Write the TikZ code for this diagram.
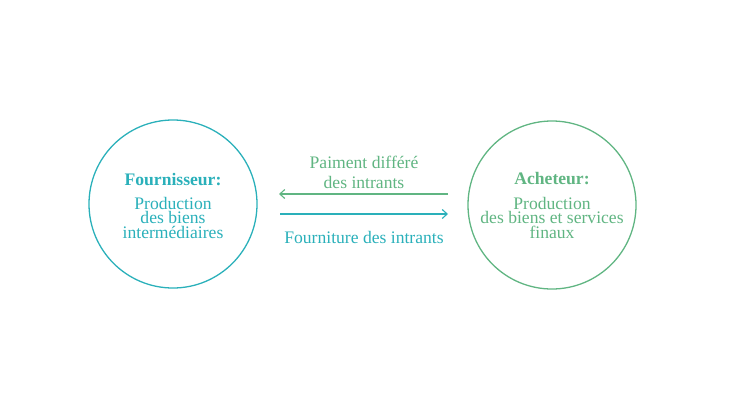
\documentclass[tikz,border=0pt]{standalone}
\usepackage{fontspec}
\setmainfont{Liberation Serif}
\usetikzlibrary{arrows.meta}
\definecolor{tealc}{RGB}{42,176,186}
\definecolor{greenc}{RGB}{96,181,130}
\begin{document}
\begin{tikzpicture}[x=1pt,y=-1pt,
  txt/.style={anchor=base,inner sep=0pt,font=\fontsize{17.6}{14.5}\selectfont},
  body/.style={txt,align=center},
  ttl/.style={txt,font=\fontsize{17.6}{14.5}\selectfont\bfseries},
  bubble/.style={circle,draw,line width=1.3pt,minimum size=168pt,inner sep=0pt},
  flow/.style={line width=1.1pt,-{Straight Barb[length=5pt,width=9pt]}}]
\useasboundingbox (0,0) rectangle (730,410);
% circles
\node[bubble,draw=tealc] (sup) at (173,204) {};
\node[bubble,draw=greenc] (buy) at (552,205) {};
% supplier text (base anchor = last line's baseline)
\node[ttl,text=tealc] (supT) at (173,185) {Fournisseur:};
\node[body,text=tealc] (supA) at (173,238) {Production\\des biens\\intermédiaires};
% buyer text
\node[ttl,text=greenc] (buyT) at (552,184) {Acheteur:};
\node[body,text=greenc] (buyA) at (552,238) {Production\\des biens et services\\finaux};
% flow labels
\node[body,text=greenc,font=\fontsize{17.6}{20}\selectfont] (pay) at (364,188) {Paiment différé\\des intrants};
\node[txt,text=tealc] (supply) at (364,243) {Fourniture des intrants};
% arrows
\coordinate (payS) at (448,194);
\coordinate (payE) at (279,194);
\coordinate (supS) at (280,214);
\coordinate (supE) at (448,214);
\draw[flow,greenc] (payS) -- (payE);
\draw[flow,tealc] (supS) -- (supE);
\end{tikzpicture}
\end{document}
